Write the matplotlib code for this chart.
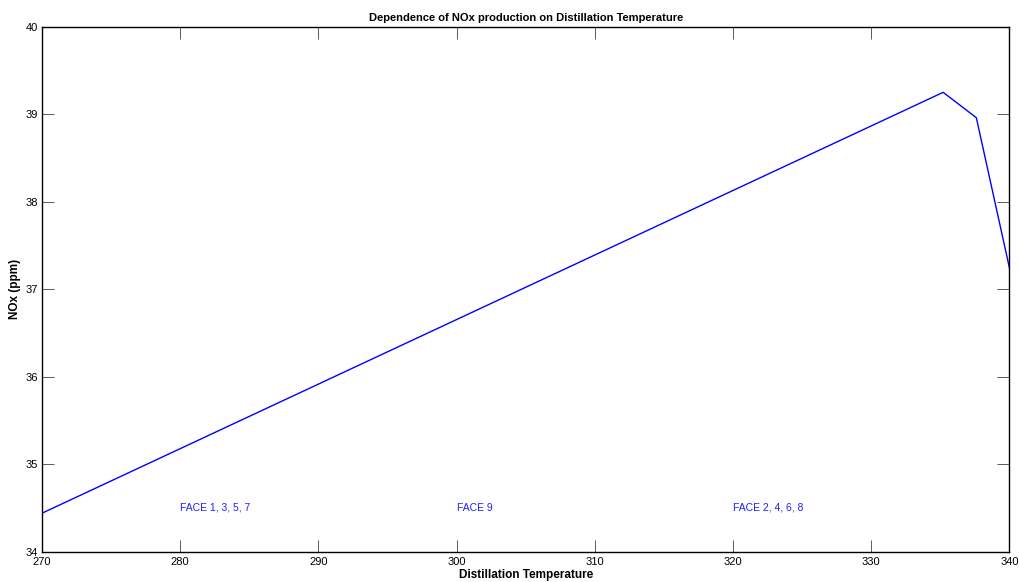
import numpy as np
import matplotlib
matplotlib.use('Agg')
import matplotlib.pyplot as plt

plt.rcParams['font.family'] = ['Liberation Sans', 'DejaVu Sans']

# distillation temperature vs NOx
temp = [270, 335.2, 337.6, 340]
nox = [34.44, 39.25, 38.96, 37.24]

face_labels = ['FACE 1, 3, 5, 7', 'FACE 9', 'FACE 2, 4, 6, 8']
face_x = [280, 300, 320]
face_y = 34.5

fig = plt.figure(figsize=(10.2, 5.82), dpi=100)
ax = fig.add_axes([42/1020, 1-551.7/582, (1009.5-42)/1020, (551.7-26.7)/582])

ax.plot(temp, nox, color='blue', lw=1)
for lab, x in zip(face_labels, face_x):
    ax.text(x, face_y, lab, color='#2020ff', fontsize=7.5, ha='left', va='center')

ax.set_xlim(270, 340)
ax.set_ylim(34, 40)
ax.set_xticks(np.arange(270, 341, 10))
ax.set_yticks(np.arange(34, 41, 1))
ax.tick_params(direction='in', top=True, right=True, length=8.5, width=0.6, color='#404040', labelsize=8)
ax.tick_params(axis='x', pad=4)
ax.tick_params(axis='y', pad=3)
for s in ax.spines.values():
    s.set_linewidth(1)

ax.set_title('Dependence of NOx production on Distillation Temperature', fontsize=8, fontweight='bold', pad=4)
ax.set_xlabel('Distillation Temperature', fontsize=8.5, fontweight='bold', labelpad=1.5)
ax.set_ylabel('NOx (ppm)', fontsize=8.5, fontweight='bold', labelpad=3)

fig.savefig('out.png', dpi=100)
